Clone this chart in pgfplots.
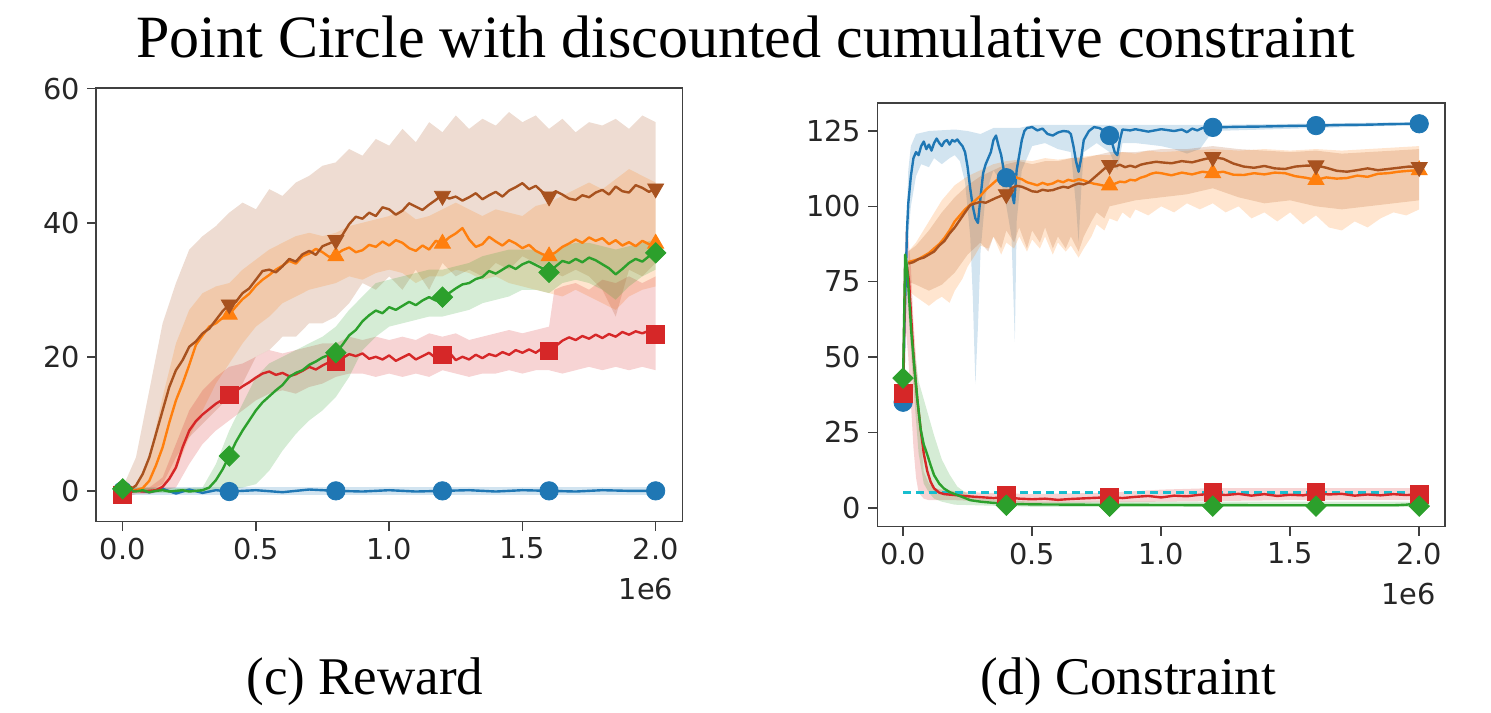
\documentclass[border=0pt]{standalone}
\usepackage{pgfplots}
\pgfplotsset{compat=1.18}
\usepgfplotslibrary{fillbetween}
\usepackage{fontspec}
\setmainfont{Liberation Serif}
\newfontfamily\djfont{DejaVu Sans}
\definecolor{tblue}{HTML}{1F77B4}
\definecolor{torange}{HTML}{FF7F0E}
\definecolor{tgreen}{HTML}{2CA02C}
\definecolor{tred}{HTML}{D62728}
\definecolor{tbrown}{HTML}{A8521F}
\definecolor{tcyan}{HTML}{17BECF}
\pgfplotsset{
  myax/.style={scale only axis, xmin=-0.1, xmax=2.1, xtick={0,0.5,1,1.5,2},
    x tick label style={/pgf/number format/fixed,/pgf/number format/fixed zerofill,/pgf/number format/precision=1},
    tick align=outside, tick pos=left, major tick length=4.5pt,
    axis line style={black!75, line width=0.8pt},
    every tick/.style={black!75, line width=0.8pt},
    ticklabel style={font=\fontsize{14.4}{16}\selectfont\djfont, text=black!85},
    /pgf/number format/assume math mode=true},
  mline/.style={line width=1.2pt, no markers, line join=round},
  band/.style={draw=none, fill opacity=0.2},
}
\begin{document}
\begin{tikzpicture}
\path (0,0) rectangle (745.5pt,352.5pt);
\node[anchor=base, font=\fontsize{30}{35}\selectfont] at (372.75pt,323.5pt) {Point Circle with discounted cumulative constraint};
\node[anchor=base, font=\fontsize{26.5}{30}\selectfont] at (182.5pt,5pt) {(c) Reward};
\node[anchor=base, font=\fontsize{26.5}{30}\selectfont] at (564pt,5pt) {(d) Constraint};

% ================= LEFT: Reward =================
\begin{axis}[myax, name=L, at={(48pt,91.65pt)}, anchor=south west, width=293.15pt, height=216.85pt,
  ymin=-4.6, ymax=60.1, ytick={0,20,40,60}]
% bands
\addplot[draw=none, name path=bu] coordinates {(0,0.6)(2,0.6)};
\addplot[draw=none, name path=bl] coordinates {(0,-0.6)(2,-0.6)};
\addplot[band, fill=tblue] fill between[of=bu and bl];
% brown band
\addplot[draw=none, name path=wu] coordinates {(0,0.5)(0.05,5)(0.1,15)(0.15,25)(0.2,31)(0.25,36)(0.3,38)(0.35,39.5)(0.4,41.5)(0.45,43)(0.5,42)(0.55,45)(0.6,44)(0.65,46)(0.7,47)(0.75,48.5)(0.8,49)(0.85,51)(0.9,50)(0.95,52.5)(1.0,51.5)(1.05,54)(1.1,52)(1.15,55)(1.2,53.5)(1.25,56)(1.3,54)(1.35,55.5)(1.4,54.5)(1.45,56.5)(1.5,55)(1.55,56)(1.6,54)(1.65,55.5)(1.7,53.5)(1.75,55)(1.8,54.5)(1.85,55.5)(1.9,54)(1.95,56)(2.0,55)};
\addplot[draw=none, name path=wl] coordinates {(0,0)(0.05,0)(0.1,0)(0.15,1)(0.2,5)(0.25,8)(0.3,10)(0.35,12)(0.4,14)(0.45,16)(0.5,20)(0.55,21)(0.6,23)(0.65,23)(0.7,25)(0.75,25)(0.8,26)(0.85,28)(0.9,31)(0.95,30)(1.0,32)(1.05,30)(1.1,33)(1.15,30)(1.2,34)(1.25,32)(1.3,33)(1.35,32)(1.4,34)(1.45,33)(1.5,35)(1.55,34)(1.6,33)(1.65,32)(1.7,33)(1.75,32)(1.8,30)(1.85,26)(1.9,33)(1.95,32)(2.0,34)};
\addplot[band, fill=tbrown] fill between[of=wu and wl];
% orange band
\addplot[draw=none, name path=ou] coordinates {(0,0.2)(0.05,0.8)(0.1,5)(0.15,14)(0.2,22)(0.25,27)(0.3,29.5)(0.35,30.5)(0.4,31)(0.45,33)(0.5,34.5)(0.55,36)(0.6,37)(0.65,38)(0.7,38.5)(0.75,38)(0.8,38.5)(0.85,39.5)(0.9,40)(0.95,40.5)(1.0,41)(1.05,42)(1.1,40.5)(1.15,41)(1.2,42)(1.25,43)(1.3,42)(1.35,41)(1.4,42)(1.45,41.5)(1.5,41)(1.55,42.5)(1.6,43)(1.65,44)(1.7,45)(1.75,46)(1.8,45)(1.85,46.5)(1.9,48)(1.95,47)(2.0,46)};
\addplot[draw=none, name path=ol] coordinates {(0,0)(0.05,0)(0.1,0)(0.15,0.5)(0.2,3)(0.25,8)(0.3,12)(0.35,16)(0.4,19)(0.45,22)(0.5,24.5)(0.55,26)(0.6,28)(0.65,29)(0.7,30)(0.75,30.5)(0.8,31)(0.85,32)(0.9,31.5)(0.95,32.5)(1.0,33)(1.05,32.5)(1.1,31)(1.15,32)(1.2,32)(1.25,33)(1.3,32.5)(1.35,31.5)(1.4,32)(1.45,31)(1.5,30.5)(1.55,30)(1.6,29.5)(1.65,29)(1.7,30)(1.75,29)(1.8,28)(1.85,27)(1.9,29)(1.95,30)(2.0,30.5)};
\addplot[band, fill=torange] fill between[of=ou and ol];
% red band
\addplot[draw=none, name path=ru] coordinates {(0,0)(0.05,0.3)(0.1,0.5)(0.15,2)(0.2,7)(0.25,12)(0.3,15)(0.35,17)(0.4,18.5)(0.45,19)(0.5,20)(0.55,21)(0.6,20.5)(0.65,21)(0.7,21.5)(0.75,22)(0.8,22)(0.85,23)(0.9,22.5)(0.95,23)(1.0,22.5)(1.05,23)(1.1,22.5)(1.15,23.5)(1.2,23)(1.25,23.5)(1.3,22.5)(1.35,23)(1.4,23.5)(1.45,24)(1.5,23.5)(1.55,24)(1.6,24.5)(1.62,30)(1.65,30.5)(1.7,31)(1.75,30)(1.8,31.5)(1.85,31)(1.9,32)(1.95,31)(2.0,32)};
\addplot[draw=none, name path=rl] coordinates {(0,-1)(0.05,-0.5)(0.1,-0.5)(0.15,0)(0.2,0.5)(0.25,4)(0.3,7)(0.35,9)(0.4,10.5)(0.45,12)(0.5,13.5)(0.55,14.5)(0.6,15)(0.65,14.5)(0.7,15.5)(0.75,16)(0.8,17)(0.85,17.5)(0.9,17.5)(0.95,17)(1.0,17.5)(1.05,17)(1.1,17.5)(1.15,17)(1.2,18)(1.25,17.5)(1.3,17)(1.35,17.5)(1.4,17.5)(1.45,18)(1.5,17.5)(1.55,18)(1.6,18)(1.65,17.5)(1.7,18)(1.75,18.5)(1.8,18)(1.85,18.5)(1.9,18)(1.95,18.5)(2.0,18)};
\addplot[band, fill=tred] fill between[of=ru and rl];
% green band
\addplot[draw=none, name path=gu] coordinates {(0,0.5)(0.1,0.4)(0.2,0.4)(0.3,0.5)(0.35,4)(0.4,9)(0.45,13)(0.5,17)(0.55,19)(0.6,20)(0.65,21)(0.7,22)(0.75,23)(0.8,24.5)(0.85,27)(0.9,29)(0.95,31)(1.0,31.5)(1.05,32)(1.1,32.5)(1.15,33)(1.2,33)(1.25,33.5)(1.3,34)(1.35,35)(1.4,35.5)(1.45,36)(1.5,36)(1.55,36)(1.6,35)(1.65,36.5)(1.7,37)(1.75,37)(1.8,36.5)(1.85,36)(1.9,36.5)(1.95,37)(2.0,37.5)};
\addplot[draw=none, name path=gl] coordinates {(0,0)(0.1,-0.3)(0.2,-0.3)(0.3,-0.2)(0.35,0)(0.4,0.3)(0.45,0.5)(0.5,1)(0.55,3)(0.6,6)(0.65,8.5)(0.7,10.5)(0.75,12)(0.8,14)(0.85,17)(0.9,21)(0.95,23)(1.0,24.5)(1.05,25)(1.1,25.5)(1.15,26)(1.2,26)(1.25,26.5)(1.3,27)(1.35,28)(1.4,28.5)(1.45,29)(1.5,30)(1.55,30)(1.6,29.5)(1.65,31)(1.7,31.5)(1.75,31)(1.8,30)(1.85,28.5)(1.9,30.5)(1.95,32)(2.0,33)};
\addplot[band, fill=tgreen] fill between[of=gu and gl];
% mean lines
\addplot[mline, tblue] coordinates {(0,0.2)(0.05,0.1)(0.1,-0.2)(0.15,0.3)(0.2,-0.4)(0.25,0.2)(0.3,-0.3)(0.35,0.1)(0.4,-0.1)(0.5,0.1)(0.6,-0.2)(0.7,0.2)(0.8,0)(0.9,-0.1)(1.0,0.1)(1.1,-0.1)(1.2,0)(1.3,0.1)(1.4,-0.1)(1.5,0.1)(1.6,0)(1.7,-0.1)(1.8,0.1)(1.9,0)(2.0,0)};
\addplot[mline, torange] coordinates {(0,0)(0.025,0)(0.05,0.1)(0.075,0.4)(0.1,1.5)(0.125,3.8)(0.15,6.5)(0.175,10.2)(0.2,13.5)(0.225,16)(0.25,18.8)(0.275,21.8)(0.3,23.2)(0.325,24.5)(0.35,25)(0.375,25.8)(0.4,26.3)(0.425,27.5)(0.45,28.6)(0.475,29.4)(0.5,30.6)(0.525,31.5)(0.55,32.2)(0.575,33)(0.6,33.6)(0.625,34.3)(0.65,33.9)(0.675,35)(0.7,35.4)(0.725,36.1)(0.75,35.6)(0.775,34.9)(0.8,35.2)(0.825,35.9)(0.85,36.3)(0.875,35.6)(0.9,35.9)(0.925,36.7)(0.95,36.4)(0.975,37.2)(1.0,36.6)(1.025,37.4)(1.05,37)(1.075,36.2)(1.1,35.8)(1.125,36.6)(1.15,36)(1.175,37.3)(1.2,36.9)(1.225,37.8)(1.25,38.4)(1.275,39.2)(1.3,37.5)(1.325,36.4)(1.35,36.8)(1.375,37.9)(1.4,37.2)(1.425,36.6)(1.45,37.4)(1.475,36.9)(1.5,36.2)(1.525,36.7)(1.55,35.8)(1.575,35.3)(1.6,35)(1.625,35.6)(1.65,36.4)(1.675,36.9)(1.7,37.5)(1.725,37)(1.75,37.8)(1.775,37.3)(1.8,37.7)(1.825,36.8)(1.85,37.4)(1.875,36.6)(1.9,37.1)(1.925,36.5)(1.95,37.3)(1.975,36.8)(2.0,36.9)};
\addplot[mline, tbrown] coordinates {(0,0)(0.025,0.1)(0.05,0.8)(0.075,2.5)(0.1,5)(0.125,8.5)(0.15,12)(0.175,15.5)(0.2,18)(0.225,19.5)(0.25,21.5)(0.275,22.3)(0.3,23.5)(0.325,24.2)(0.35,25.5)(0.375,26.8)(0.4,27.8)(0.425,28.2)(0.45,29.5)(0.475,30.2)(0.5,31.5)(0.525,32.8)(0.55,33)(0.575,32.6)(0.6,33.5)(0.625,34.6)(0.65,34.2)(0.675,35.3)(0.7,35.8)(0.725,35.2)(0.75,36.5)(0.775,36.9)(0.8,37.4)(0.825,38.2)(0.85,39.8)(0.875,40.9)(0.9,40.6)(0.925,41.5)(0.95,41)(0.975,42.3)(1.0,42)(1.025,41.2)(1.05,41.8)(1.075,42.9)(1.1,42.4)(1.125,41.9)(1.15,42.7)(1.175,43.4)(1.2,44.2)(1.225,43.6)(1.25,43.9)(1.275,43.3)(1.3,43.8)(1.325,44.4)(1.35,43.5)(1.375,44.1)(1.4,44.6)(1.425,43.9)(1.45,44.8)(1.475,45.3)(1.5,45.9)(1.525,45)(1.55,45.5)(1.575,44.6)(1.6,44)(1.625,44.7)(1.65,44.2)(1.675,43.6)(1.7,43.4)(1.725,44.1)(1.75,43.8)(1.775,44.5)(1.8,44.9)(1.825,44.2)(1.85,45.4)(1.875,44.7)(1.9,44.5)(1.925,45.6)(1.95,45.2)(1.975,44.6)(2.0,45.1)};
\addplot[mline, tred] coordinates {(0,-0.5)(0.025,-0.2)(0.05,0)(0.075,-0.1)(0.1,0)(0.125,0.1)(0.15,0.6)(0.175,1.8)(0.2,3.5)(0.225,6.5)(0.25,9)(0.275,10.4)(0.3,11.4)(0.325,12.2)(0.35,13)(0.375,13.6)(0.4,14.3)(0.425,14.9)(0.45,15.6)(0.475,16.2)(0.5,16.9)(0.525,17.5)(0.55,17.8)(0.575,17.3)(0.6,17.6)(0.625,17.1)(0.65,17.4)(0.675,17.9)(0.7,18.5)(0.725,18.1)(0.75,18.7)(0.775,19.2)(0.8,19.3)(0.825,19.8)(0.85,20.4)(0.875,20.1)(0.9,20.5)(0.925,19.7)(0.95,20)(0.975,19.6)(1.0,20.2)(1.025,19.4)(1.05,19.9)(1.075,20.4)(1.1,19.6)(1.125,20.1)(1.15,20.6)(1.175,19.8)(1.2,20.3)(1.225,20.7)(1.25,19.5)(1.275,20)(1.3,19.6)(1.325,20.3)(1.35,19.8)(1.375,20.4)(1.4,20.1)(1.425,20.7)(1.45,20.3)(1.475,21)(1.5,20.6)(1.525,21.1)(1.55,20.6)(1.575,21.3)(1.6,20.9)(1.625,21.6)(1.65,22.4)(1.675,22.9)(1.7,22.5)(1.725,23.1)(1.75,22.7)(1.775,23.3)(1.8,22.8)(1.825,23.4)(1.85,23)(1.875,23.7)(1.9,23.3)(1.925,23.8)(1.95,23.5)(1.975,23.9)(2.0,23.3)};
\addplot[mline, tgreen] coordinates {(0,0.3)(0.025,0)(0.05,-0.1)(0.075,0.1)(0.1,-0.2)(0.125,0)(0.15,0.1)(0.175,-0.1)(0.2,0)(0.225,0.1)(0.25,-0.1)(0.275,0)(0.3,0.1)(0.325,0.5)(0.35,1.6)(0.375,3.2)(0.4,5.2)(0.425,7.3)(0.45,9)(0.475,10.5)(0.5,12)(0.525,13.2)(0.55,14.1)(0.575,15)(0.6,15.8)(0.625,17)(0.65,17.6)(0.675,18)(0.7,18.8)(0.725,19.3)(0.75,19.9)(0.775,20.3)(0.8,20.6)(0.825,21.8)(0.85,23.2)(0.875,24)(0.9,25.3)(0.925,26.2)(0.95,26.9)(0.975,26.5)(1.0,27.4)(1.025,27)(1.05,27.6)(1.075,28.2)(1.1,27.7)(1.125,28.4)(1.15,28.9)(1.175,28.4)(1.2,28.9)(1.225,29.5)(1.25,30.2)(1.275,30.8)(1.3,31)(1.325,31.6)(1.35,31.9)(1.375,32.8)(1.4,32.4)(1.425,33)(1.45,33.6)(1.475,33.1)(1.5,33.8)(1.525,34.2)(1.55,33.7)(1.575,33.2)(1.6,32.6)(1.625,33.5)(1.65,34.3)(1.675,34)(1.7,34.6)(1.725,34.1)(1.75,34.8)(1.775,34.4)(1.8,33.8)(1.825,33.2)(1.85,32.3)(1.875,33.1)(1.9,34)(1.925,34.6)(1.95,34.2)(1.975,35)(2.0,35.5)};
% markers
\addplot[only marks, mark=*, color=tblue, mark size=4.6pt] coordinates {(0,0)(0.4,-0.1)(0.8,0)(1.2,0)(1.6,0)(2.0,0)};
\addplot[only marks, mark=triangle*, color=torange, mark size=4.6pt] coordinates {(0,0)(0.4,26.3)(0.8,35)(1.2,36.9)(1.6,35)(2.0,36.9)};
\addplot[only marks, mark=triangle*, mark options={rotate=180}, color=tbrown, mark size=4.6pt] coordinates {(0,0)(0.4,27.8)(0.8,37.4)(1.2,44)(1.6,43.9)(2.0,45.1)};
\addplot[only marks, mark=square*, color=tred, mark size=4.4pt] coordinates {(0,-0.6)(0.4,14.3)(0.8,19.3)(1.2,20.3)(1.6,20.9)(2.0,23.3)};
\addplot[only marks, mark=square*, mark options={rotate=45}, color=tgreen, mark size=3.6pt] coordinates {(0,0.3)(0.4,5.2)(0.8,20.6)(1.2,28.9)(1.6,32.6)(2.0,35.5)};
\end{axis}
\node[anchor=base east, text=black!85, font=\fontsize{14.4}{16}\selectfont\djfont] at ([xshift=-1pt,yshift=-39pt]L.south east) {1e6};

% ================= RIGHT: Constraint =================
\begin{axis}[myax, name=R, at={(438.65pt,89.15pt)}, anchor=south west, width=283.85pt, height=211.7pt,
  ymin=-6.3, ymax=134.2, ytick={0,25,50,75,100,125}]
% blue band
\addplot[draw=none, name path=bu] coordinates {(0,36)(0.01,85)(0.02,112)(0.03,120)(0.05,124)(0.1,125)(0.2,125.5)(0.25,125)(0.3,124)(0.35,126)(0.4,126)(0.45,126)(0.5,127)(0.8,127)(1.2,127)(2.0,128)};
\addplot[draw=none, name path=bl] coordinates {(0,34)(0.01,65)(0.02,90)(0.03,100)(0.05,110)(0.07,114)(0.1,113)(0.12,116)(0.15,114)(0.18,116)(0.2,117)(0.22,115)(0.24,108)(0.26,90)(0.27,70)(0.28,41)(0.29,60)(0.3,85)(0.32,104)(0.35,112)(0.38,108)(0.4,100)(0.42,90)(0.433,55)(0.44,95)(0.46,112)(0.5,120)(0.55,121)(0.6,119)(0.65,118)(0.67,100)(0.68,88)(0.69,105)(0.7,118)(0.75,121)(0.8,118)(0.83,112)(0.85,121)(0.9,121)(1.0,120)(1.05,119)(1.1,117.5)(1.15,119)(1.2,125)(2.0,127)};
\addplot[band, fill=tblue] fill between[of=bu and bl];
% brown band
\addplot[draw=none, name path=wu] coordinates {(0.02,85)(0.05,87)(0.1,92)(0.15,98)(0.2,103)(0.25,107)(0.3,110)(0.35,112)(0.4,114)(0.45,115)(0.5,114)(0.55,115)(0.6,115)(0.65,116)(0.7,116)(0.75,117)(0.8,118)(0.85,118)(0.9,118)(0.95,118.5)(1.0,119)(1.1,119)(1.2,120)(1.3,119)(1.4,118.5)(1.5,118)(1.6,118.5)(1.7,117.5)(1.8,118)(1.9,118.5)(2.0,119)};
\addplot[draw=none, name path=wl] coordinates {(0.02,75)(0.05,74)(0.1,72)(0.15,74)(0.2,78)(0.25,84)(0.3,88)(0.33,85)(0.35,90)(0.38,86)(0.4,92)(0.43,88)(0.45,93)(0.48,86)(0.5,92)(0.53,88)(0.55,93)(0.58,86)(0.6,90)(0.63,86)(0.65,90)(0.68,85)(0.7,90)(0.73,95)(0.75,98)(0.78,96)(0.8,100)(0.85,101)(0.9,102)(1.0,103)(1.1,104)(1.2,106)(1.3,103)(1.4,101)(1.5,102)(1.6,100)(1.7,99)(1.8,100)(1.9,101)(2.0,102)};
\addplot[band, fill=tbrown] fill between[of=wu and wl];
% orange band
\addplot[draw=none, name path=ou] coordinates {(0.02,85)(0.05,88)(0.1,95)(0.15,102)(0.2,107)(0.25,110)(0.3,112)(0.35,114)(0.4,115)(0.45,115.5)(0.5,115)(0.55,116)(0.6,115.5)(0.65,116)(0.7,116.5)(0.75,117)(0.8,117)(0.85,118)(0.9,117.5)(0.95,118.5)(1.0,118)(1.1,118.5)(1.2,119)(1.3,118.5)(1.4,119)(1.5,118.5)(1.6,119)(1.7,118.5)(1.8,119)(1.9,119.5)(2.0,120)};
\addplot[draw=none, name path=ol] coordinates {(0.02,72)(0.05,70)(0.1,67)(0.13,69)(0.15,70)(0.18,68)(0.2,72)(0.23,76)(0.25,80)(0.28,84)(0.3,87)(0.33,86)(0.35,90)(0.38,84)(0.4,88)(0.43,86)(0.45,90)(0.48,85)(0.5,89)(0.53,86)(0.55,90)(0.58,84)(0.6,88)(0.63,85)(0.65,87)(0.68,83)(0.7,86)(0.73,90)(0.75,94)(0.78,92)(0.8,96)(0.83,95)(0.85,98)(0.88,96)(0.9,99)(0.95,97)(1.0,100)(1.05,98)(1.1,101)(1.15,99)(1.2,101)(1.25,98)(1.3,100)(1.35,96)(1.4,98)(1.45,95)(1.5,98)(1.55,94)(1.6,97)(1.65,93)(1.7,92)(1.75,95)(1.8,93)(1.85,96)(1.9,98)(1.95,97)(2.0,99)};
\addplot[band, fill=torange] fill between[of=ou and ol];
% red band
\addplot[draw=none, name path=ru] coordinates {(0,39)(0.008,92)(0.02,90)(0.03,80)(0.04,62)(0.05,50)(0.06,35)(0.07,22)(0.08,12)(0.1,8)(0.12,6.5)(0.15,6)(0.2,5.5)(0.3,5)(0.5,4.5)(0.8,5)(1.0,6)(1.2,6.5)(1.6,6.5)(2.0,6.5)};
\addplot[draw=none, name path=rl] coordinates {(0,37)(0.01,60)(0.02,50)(0.03,35)(0.04,20)(0.05,10)(0.06,5)(0.08,3)(0.1,2.5)(0.2,2.5)(0.5,1.5)(1.0,2)(1.5,2.5)(2.0,2.5)};
\addplot[band, fill=tred] fill between[of=ru and rl];
% green band
\addplot[draw=none, name path=gu] coordinates {(0,44)(0.008,85)(0.02,75)(0.04,55)(0.06,42)(0.08,36)(0.1,30)(0.12,24)(0.15,16)(0.18,11)(0.21,7)(0.25,4.5)(0.3,3)(0.5,2)(2.0,2)};
\addplot[draw=none, name path=gl] coordinates {(0,42)(0.01,80)(0.02,65)(0.04,40)(0.06,18)(0.08,8)(0.1,5)(0.12,3)(0.15,2)(0.2,1)(0.5,0.3)(2.0,0.3)};
\addplot[band, fill=tgreen] fill between[of=gu and gl];
% threshold
\addplot[tcyan, line width=1.2pt, no markers, dash pattern=on 4pt off 2.5pt] coordinates {(0,5)(2,5)};
% mean lines
\addplot[mline, tblue] coordinates {(0,35)(0.005,60)(0.01,75)(0.015,92)(0.02,101)(0.03,110)(0.04,116)(0.05,118)(0.06,117)(0.07,120)(0.08,121.5)(0.09,119)(0.1,120.5)(0.11,118.5)(0.12,121)(0.13,122.5)(0.14,121)(0.15,120)(0.16,121.5)(0.17,122)(0.18,120.5)(0.19,122)(0.2,121.5)(0.21,122.2)(0.22,121)(0.23,120)(0.24,118)(0.25,113)(0.26,106)(0.27,100)(0.28,96)(0.29,94.5)(0.3,103)(0.31,111)(0.32,114)(0.33,116)(0.34,118)(0.35,122)(0.36,123.5)(0.37,120)(0.38,117)(0.39,112)(0.4,109.5)(0.41,109)(0.42,105)(0.43,101)(0.44,112)(0.45,117)(0.46,122)(0.47,125)(0.48,126)(0.5,126.3)(0.52,125.2)(0.54,125.8)(0.56,124)(0.58,123.5)(0.6,124.5)(0.62,125)(0.64,124.8)(0.65,124)(0.66,120)(0.67,115)(0.68,111.5)(0.69,116)(0.7,122)(0.72,125)(0.74,126.3)(0.76,126)(0.78,125)(0.8,123.5)(0.81,121)(0.82,118)(0.83,117)(0.84,122)(0.85,125.5)(0.88,125.2)(0.9,125.6)(0.95,124.8)(1.0,125.6)(1.05,125)(1.08,125.5)(1.1,124.6)(1.12,125.8)(1.14,125.2)(1.16,126)(1.2,126.2)(1.3,126.4)(1.4,126.5)(1.5,126.7)(1.6,126.8)(1.7,127)(1.8,127.1)(1.9,127.3)(2.0,127.4)};
\addplot[mline, torange] coordinates {(0.02,81.5)(0.04,82)(0.06,82.5)(0.08,83.5)(0.1,84.5)(0.12,86)(0.14,87.5)(0.16,89.5)(0.18,92)(0.2,95)(0.22,97)(0.24,99)(0.26,100.5)(0.28,102)(0.3,103.5)(0.32,105.5)(0.34,107)(0.36,108.5)(0.38,110)(0.4,110.5)(0.42,111)(0.44,109.5)(0.46,109)(0.48,108)(0.5,107.5)(0.52,107)(0.54,107.8)(0.56,107.2)(0.58,107.6)(0.6,108.5)(0.62,108)(0.64,108.8)(0.66,108.4)(0.68,109)(0.7,108.6)(0.72,108)(0.74,107.5)(0.76,107.2)(0.78,106.8)(0.8,107)(0.82,107.5)(0.84,108.2)(0.86,108)(0.88,108.8)(0.9,108.6)(0.92,109.5)(0.94,110)(0.96,110.8)(0.98,111.2)(1.0,111)(1.04,110.3)(1.08,111.2)(1.12,110.6)(1.16,111.5)(1.2,111)(1.24,111.5)(1.28,110.5)(1.32,110.4)(1.36,111)(1.4,110.6)(1.44,111.2)(1.48,111)(1.52,110)(1.56,109.5)(1.6,108.8)(1.64,109.6)(1.68,109.2)(1.72,109.4)(1.76,110.2)(1.8,109.8)(1.84,110.8)(1.88,111)(1.92,111.5)(1.96,111.8)(2.0,112)};
\addplot[mline, tbrown] coordinates {(0.02,81)(0.04,81.5)(0.06,82.5)(0.08,83)(0.1,84)(0.12,85)(0.14,87)(0.16,88.5)(0.18,91)(0.2,93)(0.22,95.5)(0.24,98)(0.26,100.4)(0.28,101)(0.3,101.5)(0.32,101.2)(0.34,102)(0.36,102.8)(0.38,103.5)(0.4,104)(0.42,106)(0.44,106.8)(0.46,106.5)(0.48,105.8)(0.5,105)(0.52,104.8)(0.54,105.5)(0.56,105.2)(0.58,105.4)(0.6,106)(0.62,106.5)(0.64,106.2)(0.66,107)(0.68,107.6)(0.7,107.3)(0.72,108)(0.74,109.5)(0.76,111)(0.78,112.5)(0.8,113.7)(0.82,113.2)(0.84,113.8)(0.86,113)(0.88,113.5)(0.9,113)(0.92,113.8)(0.94,114.2)(0.96,114.5)(0.98,114.8)(1.0,114.6)(1.04,114.3)(1.08,115)(1.12,114.6)(1.16,115.5)(1.2,116.3)(1.24,115.8)(1.28,114.2)(1.32,113.2)(1.36,112.8)(1.4,113.4)(1.44,112.6)(1.48,112.4)(1.52,113.2)(1.56,113.5)(1.6,113.6)(1.64,112.8)(1.68,111.8)(1.72,111.5)(1.76,112)(1.8,112.6)(1.84,112)(1.88,112.4)(1.92,112.8)(1.96,113.2)(2.0,113)};
\addplot[mline, tred] coordinates {(0,38)(0.008,80)(0.015,80)(0.023,75)(0.03,65)(0.042,48)(0.055,36)(0.068,26)(0.08,18)(0.094,12)(0.107,8.5)(0.12,6.4)(0.14,5)(0.16,4.5)(0.2,4.2)(0.25,3.8)(0.3,3.5)(0.35,3.2)(0.4,3.5)(0.45,3)(0.5,2.8)(0.55,3)(0.6,2.6)(0.65,2.9)(0.7,3.1)(0.75,3.3)(0.8,3.5)(0.85,3.2)(0.9,3.6)(0.95,3.9)(1.0,3.4)(1.05,4)(1.1,3.8)(1.15,4.3)(1.2,4.6)(1.25,4.2)(1.3,4.6)(1.35,4)(1.4,4.5)(1.45,3.9)(1.5,4.3)(1.55,4.1)(1.6,4.8)(1.65,4.4)(1.7,4.6)(1.75,4)(1.8,4.4)(1.85,4.1)(1.9,4.5)(1.95,4.2)(2.0,4.4)};
\addplot[mline, tgreen] coordinates {(0,43)(0.008,84)(0.015,80)(0.023,70)(0.032,58)(0.042,48)(0.055,36)(0.068,26)(0.08,21)(0.094,17.5)(0.107,14)(0.12,10.8)(0.14,8)(0.158,6.4)(0.18,5.2)(0.21,4.2)(0.24,3.2)(0.26,2.5)(0.3,2)(0.35,1.6)(0.39,1.4)(0.45,1.2)(0.5,1.1)(0.7,1)(1.0,0.9)(1.5,0.8)(1.9,0.8)(1.95,1)(2.0,1.5)};
% markers
\addplot[only marks, mark=*, color=tblue, mark size=4.6pt] coordinates {(0,35)(0.4,109.5)(0.8,123.5)(1.2,126.2)(1.6,126.8)(2.0,127.4)};
\addplot[only marks, mark=triangle*, color=torange, mark size=4.6pt] coordinates {(0.8,107)(1.2,111)(1.6,108.8)(2.0,112)};
\addplot[only marks, mark=triangle*, mark options={rotate=180}, color=tbrown, mark size=4.6pt] coordinates {(0.4,104)(0.8,113.7)(1.2,116.3)(1.6,113.6)(2.0,113)};
\addplot[only marks, mark=square*, color=tred, mark size=4.4pt] coordinates {(0,38)(0.4,4)(0.8,3.5)(1.2,5)(1.6,5.2)(2.0,4.5)};
\addplot[only marks, mark=square*, mark options={rotate=45}, color=tgreen, mark size=3.6pt] coordinates {(0,43)(0.4,0.8)(0.8,0.5)(1.2,0.5)(1.6,0.5)(2.0,0.5)};
\end{axis}
\node[anchor=base east, text=black!85, font=\fontsize{14.4}{16}\selectfont\djfont] at ([xshift=-1pt,yshift=-39pt]R.south east) {1e6};
\end{tikzpicture}
\end{document}
